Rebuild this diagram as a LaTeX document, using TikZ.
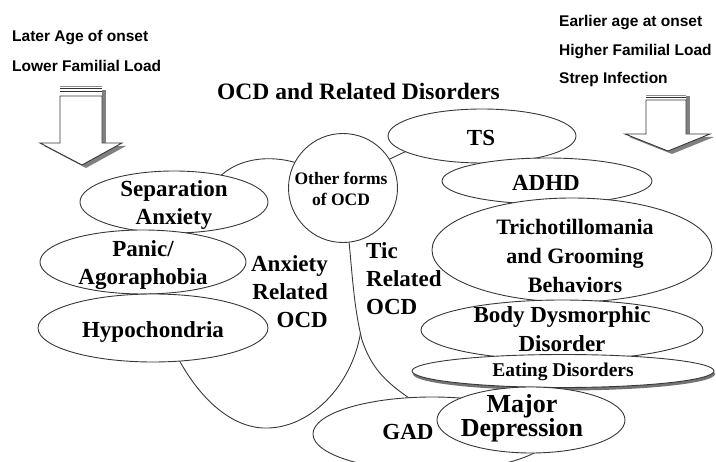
\documentclass[tikz,border=0pt]{standalone}
\usepackage{fontspec}
\setmainfont{Liberation Serif}
\newfontfamily\labsans{Liberation Sans}
\begin{document}
\begin{tikzpicture}[x=1pt,y=-1pt,
  outl/.style={draw=black!78, line width=0.9pt},
  ovl/.style={outl, fill=white},
  lab/.style={font=\bfseries\fontsize{23}{28}\selectfont, align=center, inner sep=0pt},
  side/.style={font=\labsans\bfseries\fontsize{15.5}{18}\selectfont, anchor=base west, inner sep=0pt},
  shad/.style={fill=black!50, draw=none},
  stripe/.style={draw=black!80, line width=0.8pt},
]
\useasboundingbox (0,0) rectangle (716,462);
\clip (0,0) rectangle (716,462);

% side texts
\node[side] (later) at (12,42) {Later Age of onset};
\node[side] (lower) at (12,72) {Lower Familial Load};
\node[side] (earlier) at (559,27) {Earlier age at onset};
\node[side] (higher) at (559,56) {Higher Familial Load};
\node[side] (strep) at (559,84) {Strep Infection};
\node[font=\bfseries\fontsize{23.5}{28}\selectfont, anchor=base west, inner sep=0pt] (title) at (217,100) {OCD and Related Disorders};

% left block arrow
\fill[shad] (102,90) rectangle (106,146);
\fill[shad] (44,146) -- (126,146) -- (86,168) -- cycle;
\draw[stripe, draw=black!45] (60,86) -- (102,86);
\draw[stripe] (60,88.5) -- (102,88.5);
\draw[stripe, line width=1.3pt] (60,91.5) -- (102,91.5);
\draw[outl, fill=white] (60,96) -- (102,96) -- (102,143) -- (122,143) -- (82,165) -- (40,143) -- (60,143) -- cycle;

% right block arrow
\fill[shad] (686,96) rectangle (690,137);
\fill[shad] (629,137) -- (714,137) -- (672,154) -- cycle;
\draw[stripe, draw=black!45] (646,95) -- (686,95);
\draw[stripe, line width=1.2pt] (646,97.5) -- (686,97.5);
\draw[outl, fill=white] (646,100) -- (686,100) -- (686,134) -- (710,134) -- (668,151) -- (625,134) -- (646,134) -- cycle;

% big group outlines (ends hidden below the ovals)
\coordinate (tictop1) at (375,166);
\coordinate (tictop2) at (430,140);
\coordinate (ticA) at (346,215);
\coordinate (ticJ) at (362,340);
\coordinate (ticB) at (420,405);
\draw[outl] (tictop1) -- (tictop2);
\draw[outl] (ticA) .. controls (352,260) and (352,300) .. (ticJ)
  .. controls (372,370) and (388,385) .. (ticB);
\coordinate (anxJ) at (360.5,333);
\coordinate (anxB) at (263,428);
\coordinate (anxE) at (178,358);
\draw[outl] (anxJ) .. controls (352,385) and (310,430) .. (anxB)
  .. controls (225,426) and (195,390) .. (anxE);
\coordinate (anxS) at (210,190);
\coordinate (anxT) at (315,170);
\draw[outl] (anxS) .. controls (225,160) and (270,148) .. (anxT);

% left ovals
\draw[ovl] (174,202) ellipse [x radius=94, y radius=31];
\node[lab] (sep) at (174,205.4) {Separation\\Anxiety};
\draw[ovl] (143,262) ellipse [x radius=103, y radius=32];
\node[lab] (pan) at (143,265.3) {Panic/\\Agoraphobia};
\draw[ovl] (153,328) ellipse [x radius=115, y radius=34];
\node[lab] (hyp) at (153,332.5) {Hypochondria};

% central circle
\draw[ovl] (343,188) circle [radius=54.5];
\node[lab, font=\bfseries\fontsize{17.5}{21}\selectfont] (oth) at (341,189.4) {Other forms\\of OCD};

% group labels
\node[lab, align=right, anchor=east] (anx) at (328,292) {Anxiety\\Related\\OCD};
\node[lab, align=left, anchor=west] (tic) at (366,278.5) {Tic\\Related\\OCD};

% right ovals
\draw[ovl] (482,136) ellipse [x radius=94, y radius=27];
\node[lab] (ts) at (481,138) {TS};
\draw[ovl] (547,181) ellipse [x radius=105, y radius=23];
\node[lab] (adhd) at (546,182.5) {ADHD};
\draw[ovl] (572,250) ellipse [x radius=140, y radius=52];
\node[lab, font=\bfseries\fontsize{22}{29}\selectfont] (tri) at (575,255.7) {Trichotillomania\\and Grooming\\Behaviors};
\draw[ovl] (562,330) ellipse [x radius=141, y radius=30];
\node[lab, font=\bfseries\fontsize{23}{29}\selectfont] (bdd) at (562,329.5) {Body Dysmorphic\\Disorder};
\fill[black!55] (564,374) ellipse [x radius=151, y radius=16.5];
\draw[ovl] (563,371) ellipse [x radius=151, y radius=16.5];
\node[lab, font=\bfseries\fontsize{19.5}{22}\selectfont] (eat) at (563,372) {Eating Disorders};
\draw[ovl] (432,434) ellipse [x radius=119, y radius=37];
\node[lab] (gad) at (408,432.3) {GAD};
\draw[ovl] (531,420) ellipse [x radius=94, y radius=33];
\node[lab, font=\bfseries\fontsize{26}{24}\selectfont] (md) at (522,418.7) {Major\\Depression};
\end{tikzpicture}
\end{document}
